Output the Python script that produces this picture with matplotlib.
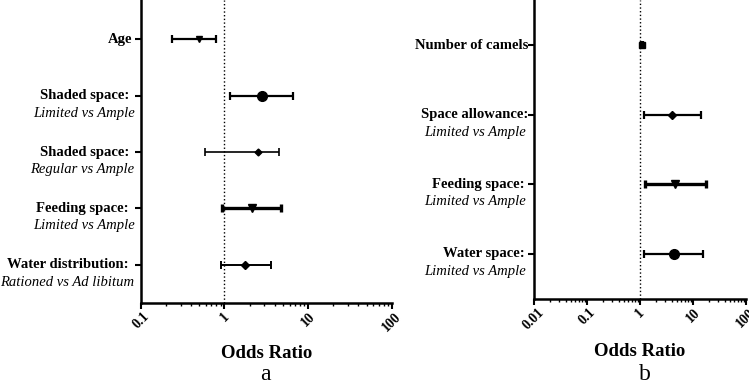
import numpy as np
import matplotlib
matplotlib.use("Agg")
import matplotlib.pyplot as plt
import matplotlib.transforms as mtransforms

plt.rcParams['font.family'] = ['Liberation Serif', 'DejaVu Serif']

# panel a
a_bold = ['Age', 'Shaded space: ', 'Shaded space: ', 'Feeding space: ', 'Water distribution: ']
a_ital = ['', 'Limited vs Ample', 'Regular vs Ample', 'Limited vs Ample', 'Rationed vs Ad libitum']
a_or = [0.50, 2.80, 2.50, 2.12, 1.78]
a_lo = [0.237, 1.18, 0.59, 0.94, 0.90]
a_hi = [0.795, 6.6, 4.47, 4.77, 3.62]
a_mark = ['v', 'o', 'D', 'v', 'D']
a_msize = [5, 7, 3.5, 5.5, 4.5]
a_lw = [1.6, 1.6, 1.2, 2.4, 1.4]

# panel b
b_bold = ['Number of camels', 'Space allowance:', 'Feeding space: ', 'Water space: ']
b_ital = ['', 'Limited vs Ample', 'Limited vs Ample', 'Limited vs Ample']
b_or = [1.10, 4.03, 4.66, 4.47]
b_lo = [1.05, 1.17, 1.26, 1.21]
b_hi = [1.15, 13.9, 17.8, 15.6]
b_mark = ['s', 'D', 'v', 'o']
b_msize = [5, 4.5, 5.5, 7]
b_lw = [1.6, 1.6, 2.4, 1.6]

fig = plt.figure(figsize=(7.49, 3.84), dpi=100)
ax1 = fig.add_axes([0.188, 0.211, 0.335, 0.789])
ax2 = fig.add_axes([0.713, 0.221, 0.283, 0.779])


def forest(ax, bold, ital, orr, lo, hi, marks, msz, lws, xlim, ylim, xticks, xlabels, bpad, ipad):
    y = np.arange(1, len(orr) + 1)
    ax.axvline(1, color='black', linestyle=':', linewidth=1)
    for i in range(len(orr)):
        ax.errorbar(orr[i], y[i], xerr=[[orr[i] - lo[i]], [hi[i] - orr[i]]],
                    fmt=marks[i], color='black', markersize=msz[i],
                    elinewidth=lws[i], capsize=3, capthick=lws[i])
    ax.set_xscale('log')
    ax.set_xlim(*xlim)
    ax.set_ylim(*ylim)
    ax.set_xticks(xticks)
    ax.set_xticklabels(xlabels, rotation=45, fontweight='bold', fontsize=10)
    ax.set_yticks(y)
    ax.set_yticklabels([])
    for s in ['top', 'right']:
        ax.spines[s].set_visible(False)
    for s in ['left', 'bottom']:
        ax.spines[s].set_linewidth(1.8)
    ax.tick_params(axis='both', which='major', width=1.5, length=4)
    ax.tick_params(axis='x', which='minor', width=1.0, length=2.5)
    ax.tick_params(axis='x', pad=1)
    trans = mtransforms.blended_transform_factory(ax.transAxes, ax.transData)
    for i in range(len(orr)):
        ax.annotate(bold[i], xy=(0, y[i]), xycoords=trans, xytext=(-bpad, 0),
                    textcoords='offset points', ha='right', va='center',
                    fontweight='bold', fontsize=10.5)
        if ital[i]:
            ax.annotate(ital[i], xy=(0, y[i]), xycoords=trans, xytext=(-ipad, -12.5),
                        textcoords='offset points', ha='right', va='center',
                        fontstyle='italic', fontsize=10.5)
    ax.set_xlabel('Odds Ratio', fontweight='bold', fontsize=13.5, labelpad=8)


forest(ax1, a_bold, a_ital, a_or, a_lo, a_hi, a_mark, a_msize, a_lw,
       (0.1, 100), (5.68, 0.3), [0.1, 1, 10, 100], ['0.1', '1', '10', '100'], 6, 4.5)
forest(ax2, b_bold, b_ital, b_or, b_lo, b_hi, b_mark, b_msize, b_lw,
       (0.01, 100), (4.65, 0.35), [0.01, 0.1, 1, 10, 100], ['0.01', '0.1', '1', '10', '100'], 4, 6)

fig.text(265 / 749, 4 / 384, 'a', ha='center', va='baseline', fontsize=17)
fig.text(645 / 749, 4 / 384, 'b', ha='center', va='baseline', fontsize=17)

fig.savefig('out.png', dpi=100)
